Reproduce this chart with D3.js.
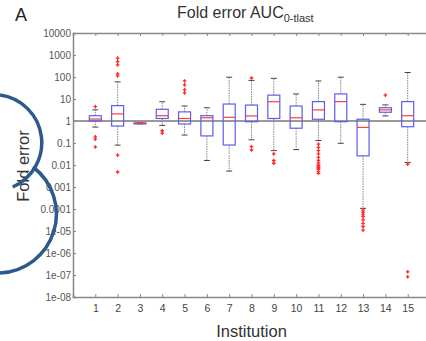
<!DOCTYPE html>
<html>
<head>
<meta charset="utf-8">
<script src="https://cdn.jsdelivr.net/npm/d3@7"></script>
<style>
  html, body { margin: 0; padding: 0; background: #fff; }
  svg { display: block; font-family: "Liberation Sans", Arial, sans-serif; }
</style>
</head>
<body>
<svg id="chart" width="426" height="341"></svg>
<script>
// ---- data (fold error values) ----
const institutions = [1,2,3,4,5,6,7,8,9,10,11,12,13,14,15];
const q1      = [1.0, 0.59, 0.76, 1.3, 0.73, 0.21, 0.081, 0.93, 1.3, 0.47, 1.2, 0.93, 0.026, 2.5, 0.55];
const median  = [1.23, 2.1, 0.79, 1.74, 1.3, 1.4, 1.47, 1.7, 7.5, 1.4, 3.2, 7.6, 0.51, 3.2, 1.74];
const q3      = [1.74, 5.0, 0.82, 3.4, 2.6, 1.74, 5.9, 5.3, 15, 4.8, 7.6, 17, 1.2, 4.0, 7.6];
const whiskLo = [0.53, 0.08, 0.74, 0.63, 0.23, 0.016, 0.0053, 0.14, 0.045, 0.05, 0.13, 0.097, 0.000107, 1.7, 0.013];
const whiskHi = [3.2, 60, 0.84, 7.5, 4.8, 4.0, 98, 70, 87, 17, 66, 98, 5.7, 5.4, 160];
const outliers = [
  [4.5, 0.19, 0.15, 0.066],
  [720, 500, 355, 138, 112, 0.028, 0.0048],
  [],
  [0.36, 0.28],
  [66, 44, 26, 19],
  [],
  [],
  [90, 0.068, 0.048],
  [0.032, 0.016, 0.012],
  [],
  [0.089, 0.063, 0.045, 0.032, 0.022, 0.016, 0.0126, 0.01, 0.0089, 0.0079, 0.0071, 0.0063, 0.005, 0.0042],
  [],
  [8.9e-5, 7.1e-5, 5.6e-5, 4.5e-5, 3.2e-5, 2.2e-5, 1.6e-5, 1.1e-5],
  [15],
  [0.011, 1.4e-7, 8.3e-8]
];
const yTickValues = [1e4, 1e3, 1e2, 1e1, 1, 1e-1, 1e-2, 1e-3, 1e-4, 1e-5, 1e-6, 1e-7, 1e-8];
const yTickLabels = ["10000","1000","100","10","1","0.1","0.01","0.001","0.0001","1e-05","1e-06","1e-07","1e-08"];

// ---- layout ----
const svg = d3.select("#chart");
const mLeft = 73, mRight = 430, mTop = 33, mBottom = 297;
const x = d3.scaleLinear().domain([0, 16]).range([mLeft, mRight]);
const y = d3.scaleLog().domain([1e-8, 1e4]).range([mBottom, mTop]);
const axisColor = "#888";

// reference line at fold error 1
svg.append("line")
  .attr("x1", mLeft).attr("x2", mRight)
  .attr("y1", y(1)).attr("y2", y(1))
  .attr("stroke", "#9a9a9a").attr("stroke-width", 2);

// axes
const gy = svg.append("g").attr("transform", `translate(${mLeft},0)`)
  .call(d3.axisLeft(y).tickValues(yTickValues)
    .tickFormat((d, i) => yTickLabels[i]).tickSize(-3).tickPadding(2));
const gb = svg.append("g").attr("transform", `translate(0,${mBottom})`)
  .call(d3.axisBottom(x).tickValues(institutions).tickSize(-3).tickPadding(8));
const gt = svg.append("g").attr("transform", `translate(0,${mTop})`)
  .call(d3.axisTop(x).tickValues(institutions).tickSize(-3).tickFormat(""));

[gy, gb, gt].forEach(g => {
  g.select(".domain").attr("stroke", axisColor).attr("stroke-width", 1.5);
  g.selectAll(".tick line").attr("stroke", "#888");
});
gy.selectAll(".tick text").attr("font-size", 10).attr("fill", "#555")
  .attr("font-family", "Liberation Sans, Arial, sans-serif");
gb.selectAll(".tick text").attr("font-size", 10.5).attr("fill", "#444")
  .attr("font-family", "Liberation Sans, Arial, sans-serif");

// box plots
const halfW = 6, capW = 3;
const g = svg.append("g");
institutions.forEach((inst, i) => {
  const cx = x(inst);
  // whiskers (dotted)
  g.append("line").attr("x1", cx).attr("x2", cx)
    .attr("y1", y(q3[i])).attr("y2", y(whiskHi[i]))
    .attr("stroke", "#777").attr("stroke-width", 0.9).attr("stroke-dasharray", "1.5,1");
  g.append("line").attr("x1", cx).attr("x2", cx)
    .attr("y1", y(q1[i])).attr("y2", y(whiskLo[i]))
    .attr("stroke", "#777").attr("stroke-width", 0.9).attr("stroke-dasharray", "1.5,1");
  // caps
  [whiskHi[i], whiskLo[i]].forEach(v => {
    g.append("line").attr("x1", cx - capW).attr("x2", cx + capW)
      .attr("y1", y(v)).attr("y2", y(v))
      .attr("stroke", "#444").attr("stroke-width", 1);
  });
  // box
  g.append("rect")
    .attr("x", cx - halfW).attr("width", 2 * halfW)
    .attr("y", y(q3[i])).attr("height", Math.max(1, y(q1[i]) - y(q3[i])))
    .attr("fill", "none").attr("stroke", "#5c5cf2").attr("stroke-width", 1.2);
  // median
  g.append("line").attr("x1", cx - halfW).attr("x2", cx + halfW)
    .attr("y1", y(median[i])).attr("y2", y(median[i]))
    .attr("stroke", "#ff3a3a").attr("stroke-width", 1.2);
  // outliers as red plus markers
  outliers[i].forEach(v => {
    const py = y(v);
    g.append("path")
      .attr("d", `M${cx - 1.8},${py}H${cx + 1.8}M${cx},${py - 1.8}V${py + 1.8}`)
      .attr("stroke", "#ff2a2a").attr("stroke-width", 1.3).attr("fill", "none");
  });
});

// titles
const title = svg.append("text").attr("x", 177).attr("y", 18)
  .attr("font-size", 16).attr("fill", "#333");
title.append("tspan").text("Fold error AUC");
title.append("tspan").attr("font-size", 11).attr("dy", 4).text("0-tlast");

svg.append("text").attr("x", 15).attr("y", 21)
  .attr("font-size", 18).attr("fill", "#222").text("A");

svg.append("text").attr("x", (mLeft + 430) / 2).attr("y", 337)
  .attr("text-anchor", "middle").attr("font-size", 16.5).attr("fill", "#333")
  .text("Institution");

svg.append("text")
  .attr("transform", `translate(29,166) rotate(-90)`)
  .attr("text-anchor", "middle").attr("font-size", 16.5).attr("fill", "#333")
  .text("Fold error");

// decorative hand-drawn arcs overlaid on the figure
svg.append("path").attr("d", "M0,95 A48.2,48.2 0 0 1 12.7,187")
  .attr("fill", "none").attr("stroke", "#2d5a8c").attr("stroke-width", 3.5);
svg.append("path").attr("d", "M33,167 A59,59 0 0 1 0,273")
  .attr("fill", "none").attr("stroke", "#2d5a8c").attr("stroke-width", 3.5);
</script>
</body>
</html>
